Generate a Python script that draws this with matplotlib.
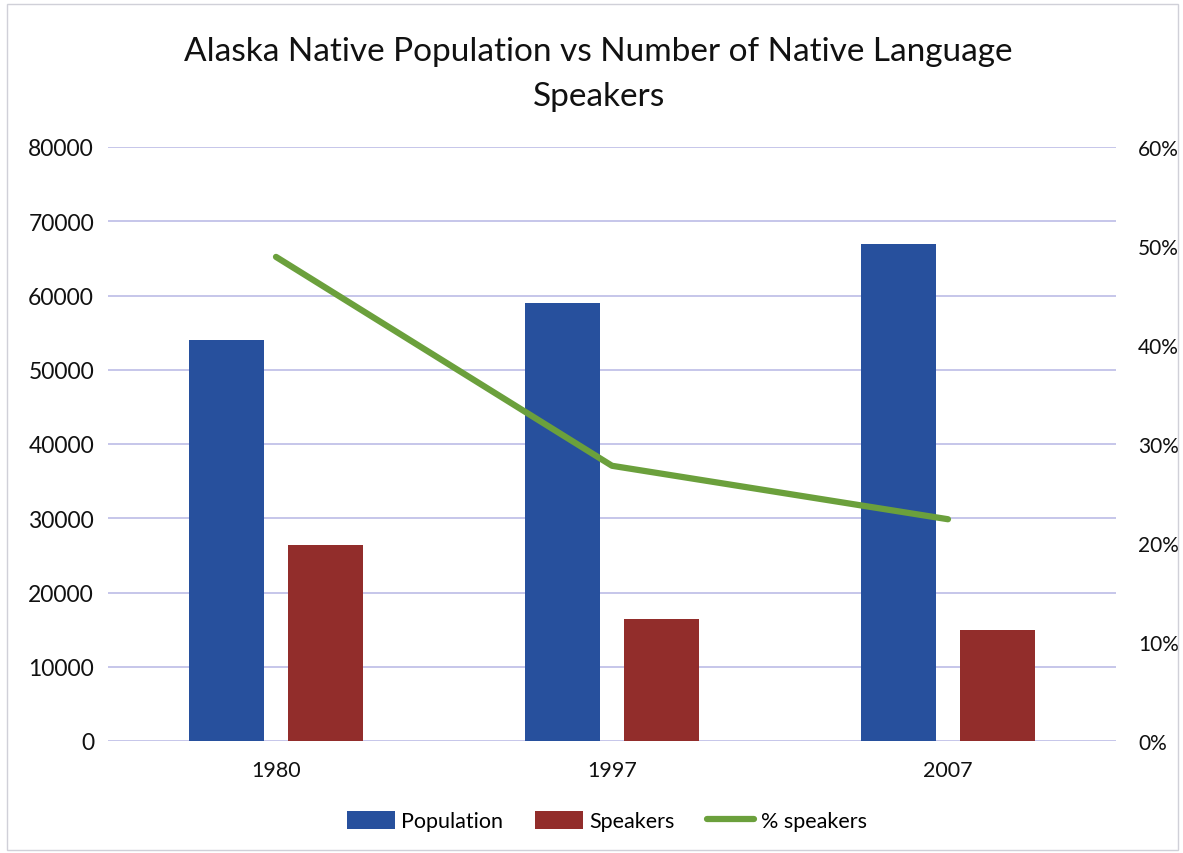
import matplotlib
matplotlib.use("Agg")
import matplotlib.pyplot as plt
from matplotlib.ticker import FuncFormatter
import numpy as np

years = ["1980", "1997", "2007"]
population = [54000, 59000, 67000]
speakers = [26400, 16400, 15000]
pct_speakers = [48.9, 27.8, 22.4]

plt.rcParams['font.family'] = ['Lato', 'DejaVu Sans']

fig = plt.figure(figsize=(11.83, 8.54), dpi=100)
ax = fig.add_axes([108/1183, 1-742/854, (1116-108)/1183, (742-148)/854])

x = np.arange(len(years))
w = 0.222
off = 0.147
blue = "#27509d"
red = "#922d2b"
green = "#6ba03c"
grid = "#bcbce6"

ax.bar(x - off, population, w, color=blue, label="Population", zorder=2)
ax.bar(x + off, speakers, w, color=red, label="Speakers", zorder=2)
ax.set_xlim(-0.5, 2.5)
ax.set_ylim(0, 80000)
ax.set_yticks(range(0, 80001, 10000))
ax.set_xticks(x)
ax.set_xticklabels(years, fontsize=15.5)
ax.yaxis.grid(True, color=grid, linewidth=1.2, zorder=0)
ax.set_axisbelow(True)
for s in ax.spines.values():
    s.set_visible(False)
ax.tick_params(axis='both', length=0, colors="#111111")
ax.tick_params(axis='y', labelsize=16.5, pad=10)
ax.tick_params(axis='x', pad=14)

ax2 = ax.twinx()
ax2.plot(x, pct_speakers, color=green, linewidth=4.5, solid_capstyle='round', label="% speakers", zorder=3)
ax2.set_ylim(0, 60)
ax2.set_yticks(range(0, 61, 10))
ax2.yaxis.set_major_formatter(FuncFormatter(lambda v, p: f"{int(v)}%"))
for s in ax2.spines.values():
    s.set_visible(False)
ax2.tick_params(axis='y', length=0, labelsize=15, colors="#111111", pad=16)

fig.text(0.506, 1-52/854, "Alaska Native Population vs Number of Native Language",
         ha='center', va='center', fontsize=24, color="#111111")
fig.text(0.506, 1-97/854, "Speakers",
         ha='center', va='center', fontsize=24, color="#111111")

h1, l1 = ax.get_legend_handles_labels()
h2, l2 = ax2.get_legend_handles_labels()
fig.legend(h1 + h2, l1 + l2, loc='center', bbox_to_anchor=(0.513, 1-822/854), ncol=3,
           frameon=False, fontsize=15.5, handlelength=2.2, handleheight=0.9,
           handletextpad=0.3, columnspacing=1.5)

border = plt.Rectangle((0.006, 0.004), 0.99, 0.99, transform=fig.transFigure,
                       fill=False, edgecolor="#d0d0d8", linewidth=1.0)
fig.patches.append(border)

fig.savefig("out.png", dpi=100)
